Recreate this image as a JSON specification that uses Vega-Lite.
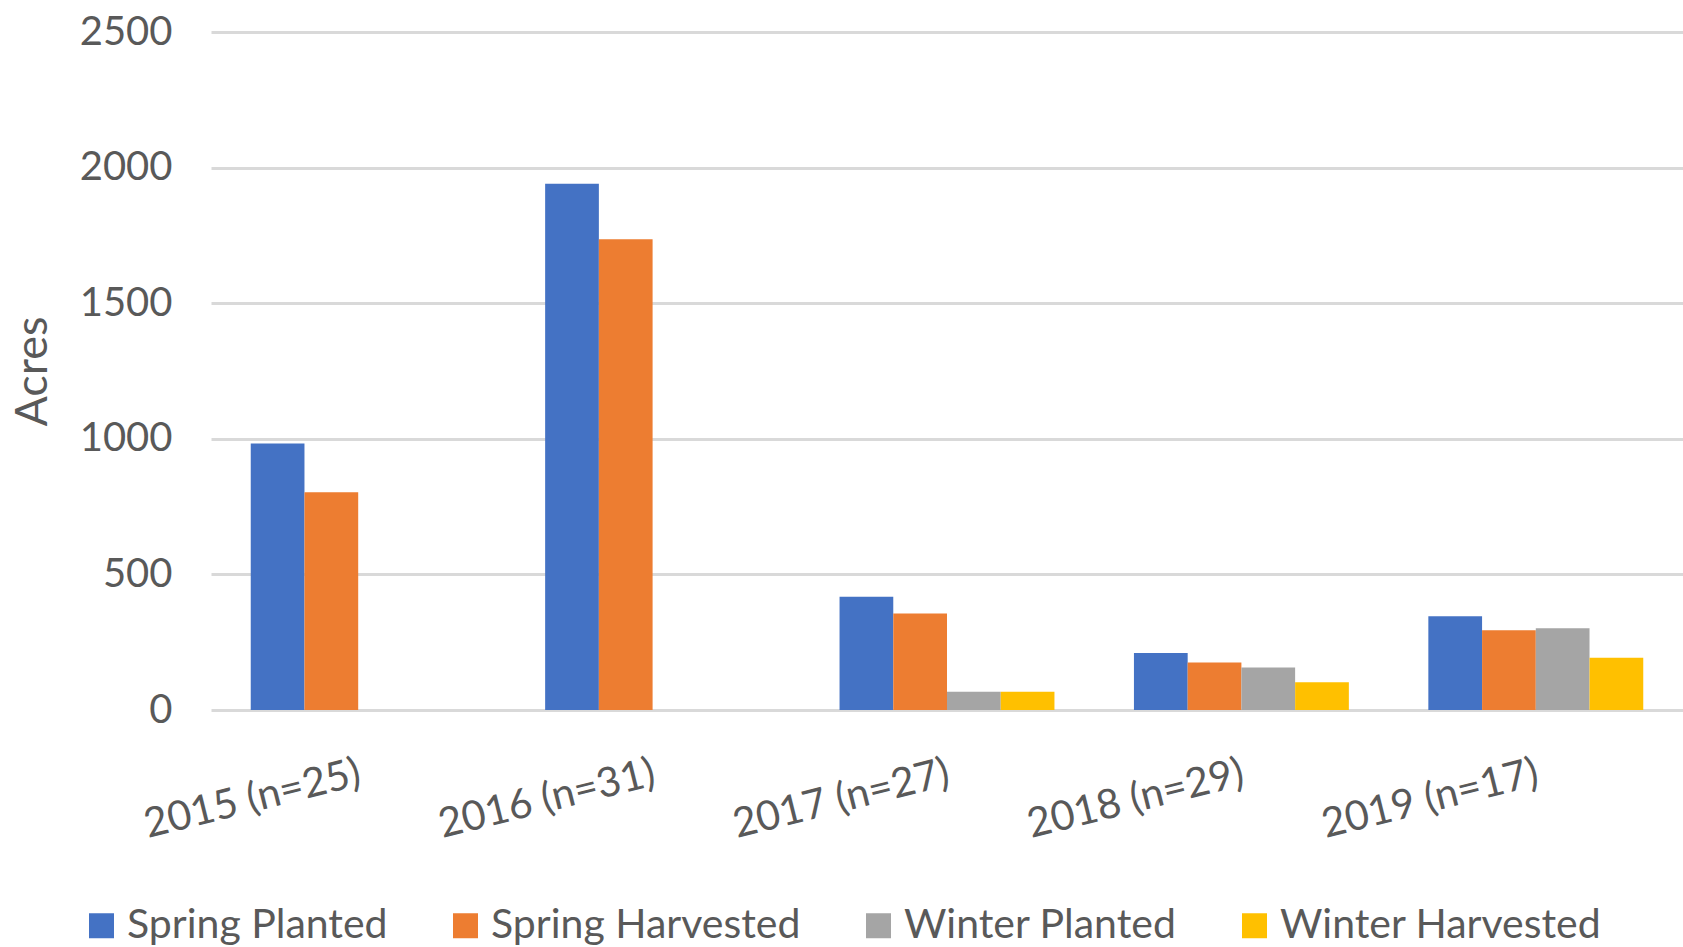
{
  "$schema": "https://vega.github.io/schema/vega-lite/v6.json",
  "width": 1472,
  "height": 678,
  "autosize": {"type": "none"},
  "padding": {"left": 211, "top": 32, "right": 0, "bottom": 237},
  "background": "white",
  "config": {
    "font": "Lato",
    "view": {"stroke": null},
    "axis": {"labelColor": "#595959", "titleColor": "#595959", "labelFont": "Lato", "titleFont": "Lato", "titleFontWeight": "normal"},
    "legend": {"labelColor": "#595959", "labelFont": "Lato"}
  },
  "data": {
    "values": [
      {"year": "2015 (n=25)", "series": "Spring Planted", "acres": 983},
      {"year": "2015 (n=25)", "series": "Spring Harvested", "acres": 803},
      {"year": "2016 (n=31)", "series": "Spring Planted", "acres": 1940},
      {"year": "2016 (n=31)", "series": "Spring Harvested", "acres": 1736},
      {"year": "2017 (n=27)", "series": "Spring Planted", "acres": 418},
      {"year": "2017 (n=27)", "series": "Spring Harvested", "acres": 356},
      {"year": "2017 (n=27)", "series": "Winter Planted", "acres": 67},
      {"year": "2017 (n=27)", "series": "Winter Harvested", "acres": 67},
      {"year": "2018 (n=29)", "series": "Spring Planted", "acres": 210},
      {"year": "2018 (n=29)", "series": "Spring Harvested", "acres": 175},
      {"year": "2018 (n=29)", "series": "Winter Planted", "acres": 157},
      {"year": "2018 (n=29)", "series": "Winter Harvested", "acres": 102},
      {"year": "2019 (n=17)", "series": "Spring Planted", "acres": 346},
      {"year": "2019 (n=17)", "series": "Spring Harvested", "acres": 294},
      {"year": "2019 (n=17)", "series": "Winter Planted", "acres": 301},
      {"year": "2019 (n=17)", "series": "Winter Harvested", "acres": 193}
    ]
  },
  "mark": {"type": "bar"},
  "encoding": {
    "x": {
      "field": "year",
      "type": "nominal",
      "sort": null,
      "scale": {"paddingInner": 0.27, "paddingOuter": 0.135},
      "axis": {
        "title": null,
        "labelAngle": -14,
        "labelFontSize": 41,
        "labelPadding": 43,
        "labelOffset": -3,
        "labelLimit": 0,
        "domain": false,
        "ticks": false,
        "grid": false
      }
    },
    "xOffset": {
      "field": "series",
      "type": "nominal",
      "scale": {
        "domain": ["Spring Planted", "Spring Harvested", "Winter Planted", "Winter Harvested"],
        "paddingInner": 0,
        "paddingOuter": 0
      }
    },
    "y": {
      "field": "acres",
      "type": "quantitative",
      "scale": {"domain": [0, 2500], "nice": false},
      "axis": {
        "title": "Acres",
        "format": "d",
        "values": [0, 500, 1000, 1500, 2000, 2500],
        "labelFontSize": 40,
        "labelPadding": 39,
        "titleFontSize": 45,
        "titleX": -179,
        "titleY": 339,
        "titleAngle": -90,
        "titleAlign": "center",
        "titleBaseline": "middle",
        "domain": false,
        "ticks": false,
        "grid": true,
        "gridColor": "#D9D9D9",
        "gridWidth": 3
      }
    },
    "color": {
      "field": "series",
      "type": "nominal",
      "scale": {
        "domain": ["Spring Planted", "Spring Harvested", "Winter Planted", "Winter Harvested"],
        "range": ["#4472C4", "#ED7D31", "#A5A5A5", "#FFC000"]
      },
      "legend": {
        "title": null,
        "orient": "none",
        "direction": "horizontal",
        "columns": 4,
        "legendX": -130,
        "legendY": 873,
        "symbolType": "square",
        "symbolSize": 625,
        "symbolStrokeWidth": 0,
        "labelFontSize": 41,
        "labelOffset": 5,
        "columnPadding": 57,
        "labelLimit": 0
      }
    }
  }
}
